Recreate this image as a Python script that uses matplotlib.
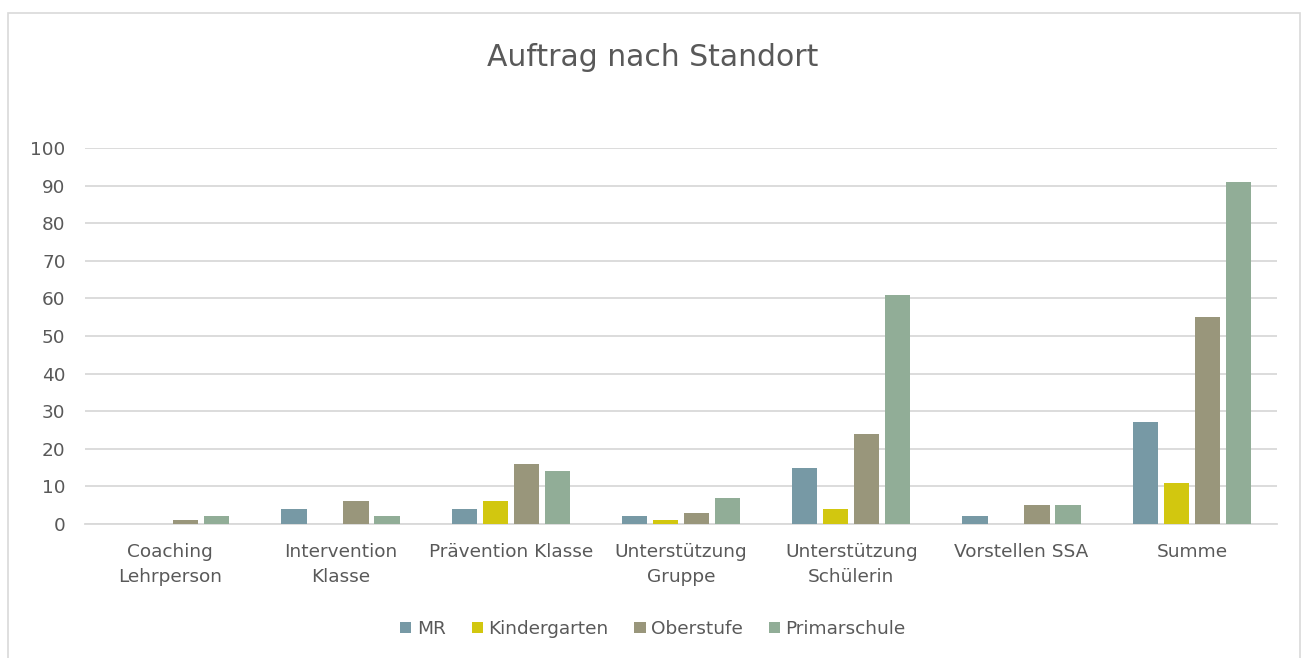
import matplotlib
matplotlib.use("Agg")
import matplotlib.pyplot as plt
import numpy as np
from matplotlib.patches import Rectangle

categories = ["Coaching\nLehrperson", "Intervention\nKlasse", "Prävention Klasse",
              "Unterstützung\nGruppe", "Unterstützung\nSchülerin", "Vorstellen SSA", "Summe"]
series_names = ["MR", "Kindergarten", "Oberstufe", "Primarschule"]
mr = [0, 4, 4, 2, 15, 2, 27]
kindergarten = [0, 0, 6, 1, 4, 0, 11]
oberstufe = [1, 6, 16, 3, 24, 5, 55]
primarschule = [2, 2, 14, 7, 61, 5, 91]
colors = ["#7799A5", "#D2C70F", "#99967B", "#91AD97"]

plt.rcParams['font.family'] = ['DejaVu Sans']
text_color = "#595959"

fig = plt.figure(figsize=(13.06, 6.58), dpi=100)
fig.patches.append(Rectangle((8/1306, -0.1), (1300-8)/1306, 1.1 - 13/658,
                             transform=fig.transFigure, fill=False,
                             edgecolor="#D9D9D9", linewidth=1.2))
ax = fig.add_axes([85/1306, 134/658, (1277-85)/1306, (524-148)/658])

x = np.arange(len(categories))
step = 0.182
width = 0.148
data = [mr, kindergarten, oberstufe, primarschule]
for i, (name, vals, c) in enumerate(zip(series_names, data, colors)):
    ax.bar(x + (i - 1.5) * step, vals, width, color=c, label=name, zorder=3)

ax.set_xlim(-0.5, len(categories) - 0.5)
ax.set_ylim(0, 100)
ax.set_yticks(range(0, 101, 10))
ax.yaxis.grid(True, color="#D9D9D9", linewidth=1.3, zorder=0)
ax.set_axisbelow(True)
for s in ["top", "right", "left"]:
    ax.spines[s].set_visible(False)
ax.spines["bottom"].set_color("#D9D9D9")
ax.spines["bottom"].set_linewidth(1.3)
ax.tick_params(axis="both", length=0, labelsize=13.3, colors=text_color)
ax.tick_params(axis="y", pad=14)
ax.tick_params(axis="x", pad=14)
ax.set_xticks(x)
ax.set_xticklabels(categories, linespacing=1.5, va="top")

fig.text(0.5, 1 - 57/658, "Auftrag nach Standort", ha="center", va="center",
         fontsize=21.5, color=text_color)

leg = fig.legend(loc="center", bbox_to_anchor=(0.5, 1 - 629/658), ncol=4, frameon=False,
                 fontsize=13.3, handlelength=0.6, handleheight=0.6, handletextpad=0.3,
                 columnspacing=1.4, labelcolor=text_color)

fig.savefig("out.png", dpi=100)
